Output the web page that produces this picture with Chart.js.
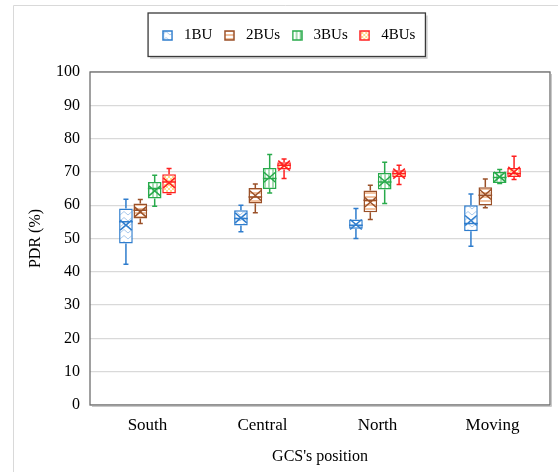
<!DOCTYPE html>
<html>
<head>
<meta charset="utf-8">
<script src="https://cdn.jsdelivr.net/npm/chart.js@4.4.1/dist/chart.umd.min.js"></script>
<style>
  html, body { margin: 0; padding: 0; background: #fff; }
  #wrap { width: 558px; height: 472px; }
</style>
</head>
<body>
<div id="wrap"><canvas id="chart"></canvas></div>
<script>
// categories and series
const categories = ['South', 'Central', 'North', 'Moving'];
const seriesNames = ['1BU', '2BUs', '3BUs', '4BUs'];
const yMin = 0, yMax = 100, yStep = 10;

// each entry: [min, q1, median, q3, max, mean]
const bu1 = [[42.3, 48.5, 55.0, 59.0, 61.8, 54.0], [52.0, 53.9, 56.0, 58.5, 60.0, 56.2], [50.0, 52.9, 54.0, 55.7, 59.0, 54.2], [47.7, 52.2, 54.5, 60.0, 63.4, 55.4]];
const bu2 = [[54.5, 56.0, 58.5, 60.5, 61.7, 58.0], [57.7, 60.5, 62.5, 65.2, 66.4, 62.9], [55.7, 57.9, 61.5, 64.4, 66.0, 60.9], [59.2, 59.9, 63.0, 65.4, 67.9, 63.2]];
const bu3 = [[59.7, 62.0, 65.0, 67.0, 69.0, 64.3], [63.7, 64.9, 68.0, 71.2, 75.2, 68.4], [60.5, 64.7, 67.0, 69.7, 72.9, 67.2], [66.5, 66.7, 68.3, 70.0, 70.7, 68.5]];
const bu4 = [[63.3, 63.5, 67.0, 69.3, 71.0, 66.7], [68.0, 70.7, 72.0, 72.9, 73.9, 71.9], [66.2, 68.4, 69.5, 70.5, 72.0, 69.5], [67.7, 68.5, 69.5, 71.2, 74.7, 70.0]];

const colors = ['#2f7dcd', '#9a5028', '#28aa4b', '#ff2020'];

// light pattern fills like the original boxes
function makePattern(kind, color) {
  const c = document.createElement('canvas');
  const g = c.getContext('2d');
  if (kind === 'wave') {
    c.width = 8; c.height = 6;
    g.fillStyle = '#fff'; g.fillRect(0, 0, 8, 6);
    g.strokeStyle = color; g.lineWidth = 1;
    g.beginPath(); g.moveTo(0, 5); g.lineTo(4, 1.5); g.lineTo(8, 5); g.stroke();
  } else if (kind === 'hstripe') {
    c.width = 4; c.height = 4;
    g.fillStyle = '#fff'; g.fillRect(0, 0, 4, 4);
    g.fillStyle = color; g.fillRect(0, 0, 4, 2);
  } else if (kind === 'vstripe') {
    c.width = 4; c.height = 4;
    g.fillStyle = '#fff'; g.fillRect(0, 0, 4, 4);
    g.fillStyle = color; g.fillRect(0, 0, 2, 4);
  } else {
    c.width = 4; c.height = 4;
    g.fillStyle = '#fff'; g.fillRect(0, 0, 4, 4);
    g.fillStyle = color; g.fillRect(0, 0, 2, 2); g.fillRect(2, 2, 2, 2);
  }
  return g.createPattern(c, 'repeat');
}
const fills = [
  makePattern('wave', '#a9c9ec'),
  makePattern('hstripe', '#f2c2a0'),
  makePattern('vstripe', '#a8dcb3'),
  makePattern('check', '#ffd98a')
];

// small legend icons: pattern square with coloured edge
function makeIcon(fill, color) {
  const c = document.createElement('canvas');
  c.width = 11; c.height = 11;
  const g = c.getContext('2d');
  g.fillStyle = fill; g.fillRect(1, 1, 9, 9);
  g.strokeStyle = color; g.lineWidth = 1.5;
  g.strokeRect(1, 1, 9, 9);
  return c;
}

const allStats = [bu1, bu2, bu3, bu4];

const datasets = allStats.map((stats, i) => ({
  label: seriesNames[i],
  data: stats.map(s => [s[1], s[3]]),
  stats: stats,
  backgroundColor: fills[i],
  borderColor: colors[i],
  borderWidth: 1.5,
  borderSkipped: false,
  pointStyle: makeIcon(fills[i], colors[i]),
  categoryPercentage: 0.5,
  barPercentage: 0.95
}));

// whiskers, median and mean cross
const boxPlot = {
  id: 'boxPlot',
  afterDatasetsDraw(chart) {
    const ctx = chart.ctx;
    const y = chart.scales.y;
    chart.data.datasets.forEach((ds, i) => {
      chart.getDatasetMeta(i).data.forEach((bar, j) => {
        const [mn, q1, md, q3, mx, mean] = ds.stats[j];
        const x = bar.x, hw = bar.width / 2;
        const cap = 2.5;
        ctx.save();
        ctx.strokeStyle = ds.borderColor;
        ctx.lineWidth = 1.5;
        ctx.beginPath();
        ctx.moveTo(x, y.getPixelForValue(q3)); ctx.lineTo(x, y.getPixelForValue(mx));
        ctx.moveTo(x, y.getPixelForValue(q1)); ctx.lineTo(x, y.getPixelForValue(mn));
        ctx.moveTo(x - cap, y.getPixelForValue(mx)); ctx.lineTo(x + cap, y.getPixelForValue(mx));
        ctx.moveTo(x - cap, y.getPixelForValue(mn)); ctx.lineTo(x + cap, y.getPixelForValue(mn));
        ctx.moveTo(x - hw, y.getPixelForValue(md)); ctx.lineTo(x + hw, y.getPixelForValue(md));
        const ym = y.getPixelForValue(mean);
        const mw = hw - 1, mh = 5;
        ctx.moveTo(x - mw, ym - mh); ctx.lineTo(x + mw, ym + mh);
        ctx.moveTo(x - mw, ym + mh); ctx.lineTo(x + mw, ym - mh);
        ctx.stroke();
        ctx.restore();
      });
    });
  }
};

// frames: outer, plot border, legend box
const frames = {
  id: 'frames',
  beforeLayout(chart) {
    const lg = chart.legend;
    if (lg && !lg.patched) {
      const fit = lg.fit;
      lg.fit = function () { fit.call(this); this.height += 19; };
      lg.patched = true;
    }
  },
  beforeDraw(chart) {
    const ctx = chart.ctx;
    ctx.save();
    ctx.strokeStyle = '#d9d9d9';
    ctx.lineWidth = 1;
    ctx.beginPath();
    ctx.moveTo(13.5, chart.height); ctx.lineTo(13.5, 5.5); ctx.lineTo(chart.width, 5.5);
    ctx.stroke();
    ctx.restore();
  },
  afterDraw(chart) {
    const ctx = chart.ctx;
    const a = chart.chartArea;
    ctx.save();
    ctx.strokeStyle = '#c8c8c8';
    ctx.lineWidth = 1;
    ctx.beginPath();
    ctx.moveTo(a.left + 2, a.bottom + 1.5); ctx.lineTo(a.right + 1.5, a.bottom + 1.5); ctx.lineTo(a.right + 1.5, a.top + 2);
    ctx.stroke();
    ctx.strokeStyle = '#6e6e6e';
    ctx.lineWidth = 1.3;
    ctx.strokeRect(a.left, a.top, a.right - a.left, a.bottom - a.top);

    const hb = chart.legend.legendHitBoxes;
    if (hb && hb.length) {
      const first = hb[0], last = hb[hb.length - 1];
      const cy = first.top + first.height / 2;
      const l = first.left - 10.5, r = last.left + last.width + 10;
      ctx.strokeStyle = '#c8c8c8';
      ctx.beginPath();
      ctx.moveTo(l + 2, cy + 22.5); ctx.lineTo(r + 1.5, cy + 22.5); ctx.lineTo(r + 1.5, cy - 20);
      ctx.stroke();
      ctx.strokeStyle = '#3a3a3a';
      ctx.lineWidth = 1.3;
      ctx.strokeRect(l, cy - 22.5, r - l, 43.5);
    }
    ctx.restore();
  }
};

new Chart(document.getElementById('chart'), {
  type: 'bar',
  data: { labels: categories, datasets: datasets },
  plugins: [boxPlot, frames],
  options: {
    responsive: true,
    maintainAspectRatio: false,
    animation: false,
    layout: { padding: { left: 24, right: 8, top: 20, bottom: 0 } },
    plugins: {
      tooltip: { enabled: false },
      legend: {
        position: 'top',
        labels: {
          usePointStyle: true,
          pointStyleWidth: 18,
          boxHeight: 11,
          padding: 8,
          color: '#000',
          font: { family: 'Liberation Serif', size: 15 }
        }
      }
    },
    scales: {
      x: {
        grid: { display: false, drawTicks: false },
        border: { display: false },
        ticks: { color: '#000', padding: 10, font: { family: 'Liberation Serif', size: 17 } },
        title: { display: true, text: "GCS's position", color: '#000', padding: { top: 0, bottom: 6 }, font: { family: 'Liberation Serif', size: 16 } },
        afterFit(scale) { scale.height = 67; }
      },
      y: {
        min: yMin,
        max: yMax,
        grid: { color: '#d9d9d9', lineWidth: 1.3, drawTicks: false },
        border: { display: false },
        ticks: { stepSize: yStep, color: '#000', padding: 10, font: { family: 'Liberation Serif', size: 16 } },
        title: { display: true, text: 'PDR (%)', color: '#000', padding: { top: 2, bottom: 0 }, font: { family: 'Liberation Serif', size: 16 } },
        afterFit(scale) { scale.width = 66; }
      }
    }
  }
});
</script>
</body>
</html>
